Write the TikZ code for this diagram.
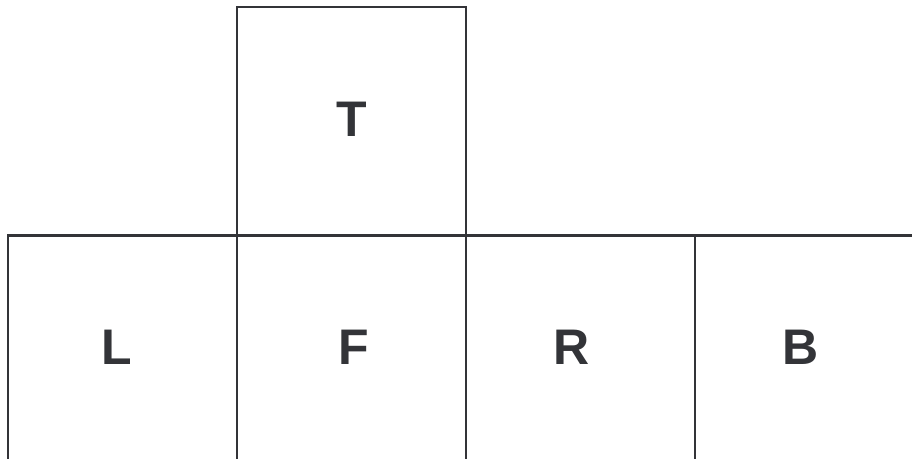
\documentclass[tikz,border=0pt]{standalone}
\usepackage{fontspec}
\setmainfont{Liberation Sans}
\definecolor{ink}{HTML}{333438}
\begin{document}
\begin{tikzpicture}[x=1pt,y=-1pt,
  face/.style={draw=ink, line width=2.2pt, minimum width=229pt, minimum height=229pt, inner sep=0pt, outer sep=0pt},
  lbl/.style={text=ink, font=\fontsize{50}{50}\selectfont\bfseries, anchor=base, inner sep=0pt}]
\useasboundingbox (0,0) rectangle (912,458);
\clip (0,0) rectangle (912,458);
\fill[white] (0,0) rectangle (912,458);
\node[face] (top) at (351.5,121.5) {};
\node[face] (left) at (122.5,350) {};
\node[face] (front) at (351.5,350) {};
\node[face] (right) at (580.5,350) {};
\node[face] (back) at (809.5,350) {};
\node[lbl] (tT) at (352,136) {T};
\node[lbl] (tL) at (117,364) {L};
\node[lbl] (tF) at (354,364) {F};
\node[lbl] (tR) at (572,364) {R};
\node[lbl] (tB) at (801,364) {B};
\end{tikzpicture}
\end{document}
